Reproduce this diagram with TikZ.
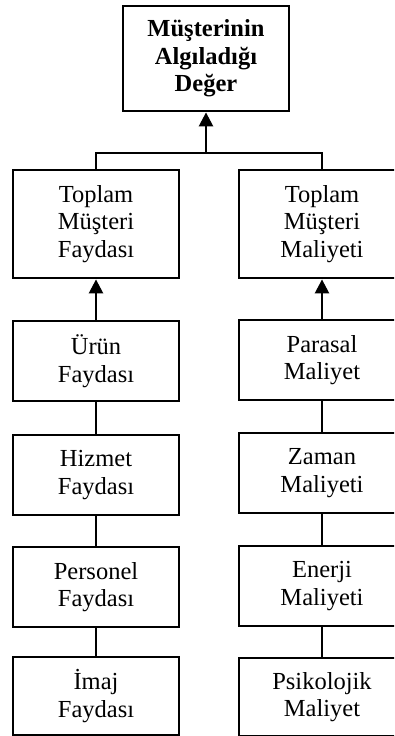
\documentclass[tikz,border=0pt]{standalone}
\usepackage{fontspec}
\setmainfont{Liberation Serif}
\usetikzlibrary{arrows.meta,positioning}

\begin{document}
\begin{tikzpicture}[
    x=1pt, y=-1pt,
    font=\fontsize{24.5}{27.5}\selectfont,
    >={Triangle[length=14pt,width=14pt]},
    line width=2.8pt,
    topbox/.style={draw=black, fill=white, minimum width=166pt, minimum height=105pt,
                   align=center, inner sep=2pt, font=\fontsize{24.5}{27.5}\selectfont\bfseries},
    sumbox/.style={draw=black, fill=white, minimum width=166pt, minimum height=108pt,
                   align=center, inner sep=2pt},
    itembox/.style={draw=black, fill=white, minimum width=166pt, minimum height=80pt,
                    align=center, inner sep=2pt},
    link/.style={draw=black, line width=2.5pt},
    uparrow/.style={draw=black, line width=2.5pt, ->},
  ]
  \useasboundingbox (0,0) rectangle (394,736);
  \clip (0,0) rectangle (394,736);

  % Top: perceived value.
  \node[topbox] (deger) at (206,58.5) {Müşterinin\\Algıladığı\\Değer};

  % Totals.
  \node[sumbox] (fayda)   at (96,224)  {Toplam\\Müşteri\\Faydası};
  \node[sumbox] (maliyet) at (322,224) {Toplam\\Müşteri\\Maliyeti};

  \coordinate (join) at (206,153);
  \draw[link] (fayda.north) |- (join) -| (maliyet.north);
  \draw[uparrow] (join) -- (deger.south);

  % Benefit column.
  \node[itembox] (urun)     at (96,361) {Ürün\\Faydası};
  \node[itembox] (hizmet)   at (96,475) {Hizmet\\Faydası};
  \node[itembox] (personel) at (96,587) {Personel\\Faydası};
  \node[itembox, minimum height=78pt] (imaj) at (96,696) {İmaj\\Faydası};

  \draw[uparrow] (urun.north) -- (fayda.south);
  \draw[link] (urun.south) -- (hizmet.north);
  \draw[link] (hizmet.south) -- (personel.north);
  \draw[link] (personel.south) -- (imaj.north);

  % Cost column.
  \node[itembox] (parasal)   at (322,360) {Parasal\\Maliyet};
  \node[itembox] (zaman)     at (322,473) {Zaman\\Maliyeti};
  \node[itembox] (enerji)    at (322,586) {Enerji\\Maliyeti};
  \node[itembox, minimum height=78pt] (psikolojik) at (322,697) {Psikolojik\\Maliyet};

  \draw[uparrow] (parasal.north) -- (maliyet.south);
  \draw[link] (parasal.south) -- (zaman.north);
  \draw[link] (zaman.south) -- (enerji.north);
  \draw[link] (enerji.south) -- (psikolojik.north);
\end{tikzpicture}
\end{document}
